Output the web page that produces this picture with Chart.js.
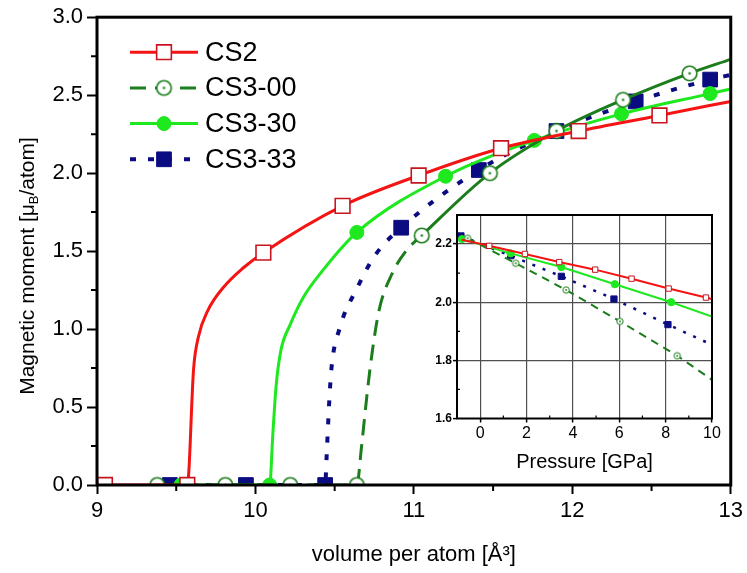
<!DOCTYPE html>
<html>
<head>
<meta charset="utf-8">
<script src="https://cdn.jsdelivr.net/npm/chart.js@4.4.1/dist/chart.umd.min.js"></script>
<style>
  html, body { margin: 0; padding: 0; background: #fff; }
  #wrap { position: relative; width: 747px; height: 573px; }
  #main { position: absolute; left: 0; top: 0; }
  #inset { position: absolute; left: 420px; top: 200px; }
</style>
</head>
<body>
<div id="wrap">
  <canvas id="main" width="747" height="573"></canvas>
  <canvas id="inset" width="310" height="280"></canvas>
</div>
<script>
// ---- main panel: moment vs volume ----
// "bare" = indices of spline knots that carry no symbol
const volCS2 = [9.05, 9.57, 9.61, 9.64, 9.70, 9.80, 9.92, 10.05, 10.55, 11.03, 11.55, 12.04, 12.55, 13.0];
const momCS2 = [0, 0, 0.75, 0.95, 1.12, 1.27, 1.39, 1.49, 1.79, 1.985, 2.16, 2.27, 2.37, 2.46];
const bareCS2 = [2, 3, 4, 5, 6, 13];

const volCS300 = [9.38, 9.81, 10.22, 10.64, 10.67, 10.70, 10.73, 10.78, 10.86, 10.95, 11.05, 11.48, 11.90, 12.32, 12.74, 13.0];
const momCS300 = [0, 0, 0, 0, 0.25, 0.54, 0.80, 1.12, 1.35, 1.50, 1.60, 2.00, 2.27, 2.47, 2.64, 2.73];
const bareCS300 = [4, 5, 6, 7, 8, 9, 15];

const volCS330 = [9.53, 10.09, 10.11, 10.13, 10.16, 10.22, 10.30, 10.42, 10.64, 11.20, 11.76, 12.31, 12.87, 13.0];
const momCS330 = [0, 0, 0.33, 0.63, 0.86, 1.03, 1.20, 1.37, 1.62, 1.98, 2.21, 2.38, 2.51, 2.54];
const bareCS330 = [2, 3, 4, 5, 6, 7, 13];

const volCS333 = [9.46, 9.94, 10.44, 10.45, 10.465, 10.48, 10.53, 10.64, 10.76, 10.92, 11.41, 11.90, 12.40, 12.87, 13.0];
const momCS333 = [0, 0, 0, 0.20, 0.52, 0.75, 1.00, 1.26, 1.48, 1.65, 2.02, 2.27, 2.46, 2.60, 2.63];
const bareCS333 = [3, 4, 5, 6, 7, 8, 14];

// ---- inset: moment vs pressure ----
const presCS2 = [-0.8, 0.39, 1.93, 3.41, 4.96, 6.53, 8.13, 9.74, 10.0];
const inCS2 = [2.215, 2.194, 2.166, 2.138, 2.112, 2.081, 2.047, 2.016, 2.011];
const inBareCS2 = [0, 8];

const presCS300 = [-0.54, 1.53, 3.71, 6.03, 8.5, 10.0];
const inCS300 = [2.22, 2.134, 2.042, 1.934, 1.816, 1.733];
const inBareCS300 = [5];

const presCS330 = [-0.79, 1.31, 3.5, 5.81, 8.24, 10.0];
const inCS330 = [2.217, 2.168, 2.121, 2.062, 2.0, 1.951];
const inBareCS330 = [5];

const presCS333 = [-0.83, 1.31, 3.5, 5.77, 8.1, 9.96];
const inCS333 = [2.228, 2.16, 2.089, 2.011, 1.923, 1.855];
const inBareCS333 = [5];

const insetXTicks = [-1, 0, 2, 4, 6, 8, 10];

const RED = '#f41414', DKGREEN = '#1b7d1b', GREEN = '#1ee81e', NAVY = '#0c0c82';
const FONT = '"Liberation Sans", Arial, sans-serif';

function pts(xs, ys) { return xs.map((x, i) => ({ x: x, y: ys[i] })); }
function radii(n, bare, r) {
  let out = [];
  for (let i = 0; i < n; i++) out.push(bare.includes(i) ? 0 : r);
  return out;
}

// open circle with a dot in the middle
function ringDot(r, lw, color) {
  const s = Math.ceil(2 * r + lw + 2);
  const c = document.createElement('canvas');
  c.width = s; c.height = s;
  const g = c.getContext('2d');
  g.fillStyle = '#fff'; g.strokeStyle = color; g.lineWidth = lw;
  g.beginPath(); g.arc(s / 2, s / 2, r, 0, 2 * Math.PI); g.fill(); g.stroke();
  g.fillStyle = color;
  g.beginPath(); g.arc(s / 2, s / 2, Math.max(0.9, r * 0.17), 0, 2 * Math.PI); g.fill();
  return c;
}

function frame(w) {
  return {
    id: 'frame',
    afterDraw(chart) {
      const ctx = chart.ctx, a = chart.chartArea;
      ctx.save();
      ctx.strokeStyle = '#000'; ctx.lineWidth = w;
      ctx.strokeRect(a.left, a.top, a.right - a.left, a.bottom - a.top);
      ctx.restore();
    }
  };
}

function minorTicks(xs, ys, len, lw, dir) {
  return {
    id: 'minorTicks',
    afterDraw(chart) {
      const ctx = chart.ctx, a = chart.chartArea, sx = chart.scales.x, sy = chart.scales.y;
      ctx.save();
      ctx.strokeStyle = '#000'; ctx.lineWidth = lw;
      ctx.beginPath();
      xs.forEach(v => {
        const px = sx.getPixelForValue(v);
        ctx.moveTo(px, a.bottom); ctx.lineTo(px, a.bottom + dir * len);
      });
      ys.forEach(v => {
        const py = sy.getPixelForValue(v);
        ctx.moveTo(a.left, py); ctx.lineTo(a.left - dir * len, py);
      });
      ctx.stroke();
      ctx.restore();
    }
  };
}

function marker(ctx, style, r, x, y) {
  if (style instanceof HTMLCanvasElement) {
    ctx.drawImage(style, x - style.width / 2, y - style.height / 2);
    return;
  }
  ctx.beginPath();
  if (style === 'rect') {
    const h = r * Math.SQRT1_2;
    ctx.rect(x - h, y - h, 2 * h, 2 * h);
  } else {
    ctx.arc(x, y, r, 0, 2 * Math.PI);
  }
  ctx.fill();
  ctx.stroke();
}

// legend with line sample + symbol, top left of plot
const legendBox = {
  id: 'legendBox',
  afterDraw(chart) {
    const ctx = chart.ctx, a = chart.chartArea;
    const x0 = a.left + 33, x1 = a.left + 101, xm = a.left + 67, xt = a.left + 108;
    chart.data.datasets.forEach((ds, i) => {
      const y = a.top + 35 + i * 35.7;
      ctx.save();
      ctx.strokeStyle = ds.borderColor;
      ctx.lineWidth = ds.borderWidth;
      ctx.setLineDash(ds.borderDash || []);
      ctx.beginPath(); ctx.moveTo(x0, y); ctx.lineTo(x1, y); ctx.stroke();
      ctx.setLineDash([]);
      ctx.fillStyle = ds.pointBackgroundColor;
      ctx.strokeStyle = ds.pointBorderColor;
      ctx.lineWidth = ds.pointBorderWidth;
      marker(ctx, ds.pointStyle, ds.legendRadius, xm, y);
      ctx.fillStyle = '#000';
      ctx.font = '27px ' + FONT;
      ctx.textBaseline = 'middle';
      ctx.fillText(ds.label, xt, y + 1);
      ctx.restore();
    });
  }
};

// rotated y title with subscript B
const yTitle = {
  id: 'yTitle',
  afterDraw(chart) {
    const ctx = chart.ctx;
    const big = '21px ' + FONT, small = '13px ' + FONT;
    const parts = [['Magnetic moment [\u03bc', big, 0], ['B', small, 6], ['/atom]', big, 0]];
    ctx.save();
    ctx.translate(28, 266);
    ctx.rotate(-Math.PI / 2);
    let total = 0;
    parts.forEach(p => { ctx.font = p[1]; total += ctx.measureText(p[0]).width; });
    let x = -total / 2;
    ctx.fillStyle = '#000';
    ctx.textBaseline = 'middle';
    parts.forEach(p => {
      ctx.font = p[1];
      ctx.fillText(p[0], x, p[2]);
      x += ctx.measureText(p[0]).width;
    });
    ctx.restore();
  }
};

const ring = ringDot(7.3, 1.6, DKGREEN);

new Chart(document.getElementById('main'), {
  type: 'line',
  data: {
    datasets: [{
      label: 'CS2',
      data: pts(volCS2, momCS2),
      borderColor: RED, borderWidth: 3,
      pointStyle: 'rect', pointRadius: radii(volCS2.length, bareCS2, 10.4), legendRadius: 10.4,
      pointBackgroundColor: '#fff', pointBorderColor: '#c8141e', pointBorderWidth: 1.6
    }, {
      label: 'CS3-00',
      data: pts(volCS300, momCS300),
      borderColor: DKGREEN, borderWidth: 3, borderDash: [16, 9],
      segment: { borderDash: c => c.p0.parsed.x >= 11.0 ? [] : undefined },
      pointStyle: ring, pointRadius: radii(volCS300.length, bareCS300, 7.3), legendRadius: 7.3,
      pointBackgroundColor: '#fff', pointBorderColor: DKGREEN, pointBorderWidth: 1.6
    }, {
      label: 'CS3-30',
      data: pts(volCS330, momCS330),
      borderColor: GREEN, borderWidth: 3,
      pointStyle: 'circle', pointRadius: radii(volCS330.length, bareCS330, 7), legendRadius: 7,
      pointBackgroundColor: GREEN, pointBorderColor: GREEN, pointBorderWidth: 1
    }, {
      label: 'CS3-33',
      data: pts(volCS333, momCS333),
      borderColor: NAVY, borderWidth: 4, borderDash: [6, 12],
      pointStyle: 'rect', pointRadius: radii(volCS333.length, bareCS333, 10.4), legendRadius: 10.4,
      pointBackgroundColor: NAVY, pointBorderColor: NAVY, pointBorderWidth: 1
    }]
  },
  options: {
    responsive: false,
    animation: false,
    devicePixelRatio: 1,
    layout: { padding: { left: 0, top: 15, right: 15, bottom: 0 } },
    datasets: { line: { cubicInterpolationMode: 'monotone', clip: 0, pointHoverRadius: 0 } },
    plugins: { legend: { display: false }, tooltip: { enabled: false } },
    scales: {
      x: {
        type: 'linear', min: 9, max: 13,
        afterFit: s => { s.height = 88; },
        border: { display: false },
        grid: { drawOnChartArea: false, tickLength: 9, tickColor: '#000', tickWidth: 2 },
        ticks: { stepSize: 1, maxRotation: 0, padding: 4, color: '#000', font: { family: FONT, size: 22 } },
        title: { display: true, text: 'volume per atom [\u00c5\u00b3]', color: '#000',
                 font: { family: FONT, size: 22 }, padding: { top: 0, bottom: 5 } }
      },
      y: {
        min: 0, max: 3,
        afterFit: s => { s.width = 97; },
        border: { display: false },
        grid: { drawOnChartArea: false, tickLength: 10, tickColor: '#000', tickWidth: 2 },
        ticks: { stepSize: 0.5, padding: 4, color: '#000', font: { family: FONT, size: 22 },
                 callback: v => v.toFixed(1) }
      }
    }
  },
  plugins: [
    minorTicks([9.5, 10.5, 11.5, 12.5], [0.25, 0.75, 1.25, 1.75, 2.25, 2.75], 6, 2, 1),
    frame(3), legendBox, yTitle
  ]
});

// ---- inset ----
const ringSmall = ringDot(3.2, 1, DKGREEN);
const plotBg = {
  id: 'plotBg',
  beforeDraw(chart) {
    const a = chart.chartArea, ctx = chart.ctx;
    ctx.save(); ctx.fillStyle = '#fff';
    ctx.fillRect(a.left, a.top, a.right - a.left, a.bottom - a.top);
    ctx.restore();
  }
};

new Chart(document.getElementById('inset'), {
  type: 'line',
  data: {
    datasets: [{
      label: 'CS2',
      data: pts(presCS2, inCS2),
      borderColor: RED, borderWidth: 2,
      pointStyle: 'rect', pointRadius: radii(presCS2.length, inBareCS2, 3.8),
      pointBackgroundColor: '#fff', pointBorderColor: '#c8141e', pointBorderWidth: 1
    }, {
      label: 'CS3-00',
      data: pts(presCS300, inCS300),
      borderColor: DKGREEN, borderWidth: 2, borderDash: [8, 6],
      pointStyle: ringSmall, pointRadius: radii(presCS300.length, inBareCS300, 3.2),
      pointBackgroundColor: '#fff', pointBorderColor: DKGREEN, pointBorderWidth: 1
    }, {
      label: 'CS3-30',
      data: pts(presCS330, inCS330),
      borderColor: GREEN, borderWidth: 2,
      pointStyle: 'circle', pointRadius: radii(presCS330.length, inBareCS330, 3.6),
      pointBackgroundColor: GREEN, pointBorderColor: GREEN, pointBorderWidth: 1
    }, {
      label: 'CS3-33',
      data: pts(presCS333, inCS333),
      borderColor: NAVY, borderWidth: 2.5, borderDash: [3, 8],
      pointStyle: 'rect', pointRadius: radii(presCS333.length, inBareCS333, 4.4),
      pointBackgroundColor: NAVY, pointBorderColor: NAVY, pointBorderWidth: 1
    }]
  },
  options: {
    responsive: false,
    animation: false,
    devicePixelRatio: 1,
    layout: { padding: { left: 0, top: 15, right: 18, bottom: 0 } },
    datasets: { line: { tension: 0, pointHoverRadius: 0 } },
    plugins: { legend: { display: false }, tooltip: { enabled: false } },
    scales: {
      x: {
        type: 'linear', min: -1, max: 10,
        afterFit: s => { s.height = 61.5; },
        afterBuildTicks: s => { s.ticks = insetXTicks.map(v => ({ value: v })); },
        border: { display: false },
        grid: {
          color: c => (c.tick && c.tick.value > -1 && c.tick.value < 10) ? '#505050' : 'rgba(0,0,0,0)',
          lineWidth: 1.2,
          tickLength: 4, tickWidth: 1.5,
          tickColor: c => (c.tick && c.tick.value > -1) ? '#000' : 'rgba(0,0,0,0)'
        },
        ticks: { maxRotation: 0, autoSkip: false, padding: 1, color: '#000', font: { family: FONT, size: 16 },
                 callback: v => v >= 0 ? String(v) : '' },
        title: { display: true, text: 'Pressure [GPa]', color: '#000',
                 font: { family: FONT, size: 20 }, padding: { top: 0, bottom: 6 } }
      },
      y: {
        min: 1.6, max: 2.3,
        afterFit: s => { s.width = 37; },
        border: { display: false },
        grid: {
          color: c => (c.tick && c.tick.value > 1.65 && c.tick.value < 2.25) ? '#505050' : 'rgba(0,0,0,0)',
          lineWidth: 1.2,
          tickLength: 4, tickWidth: 1.5,
          tickColor: c => (c.tick && c.tick.value < 2.25) ? '#000' : 'rgba(0,0,0,0)'
        },
        ticks: { stepSize: 0.2, padding: 1, color: '#000', font: { family: FONT, size: 12, weight: 'bold' },
                 callback: v => v < 2.25 ? v.toFixed(1) : '' }
      }
    }
  },
  plugins: [
    plotBg,
    minorTicks([1, 3, 5, 7, 9], [1.7, 1.9, 2.1], 3, 1.2, -1),
    frame(2)
  ]
});
</script>
</body>
</html>
